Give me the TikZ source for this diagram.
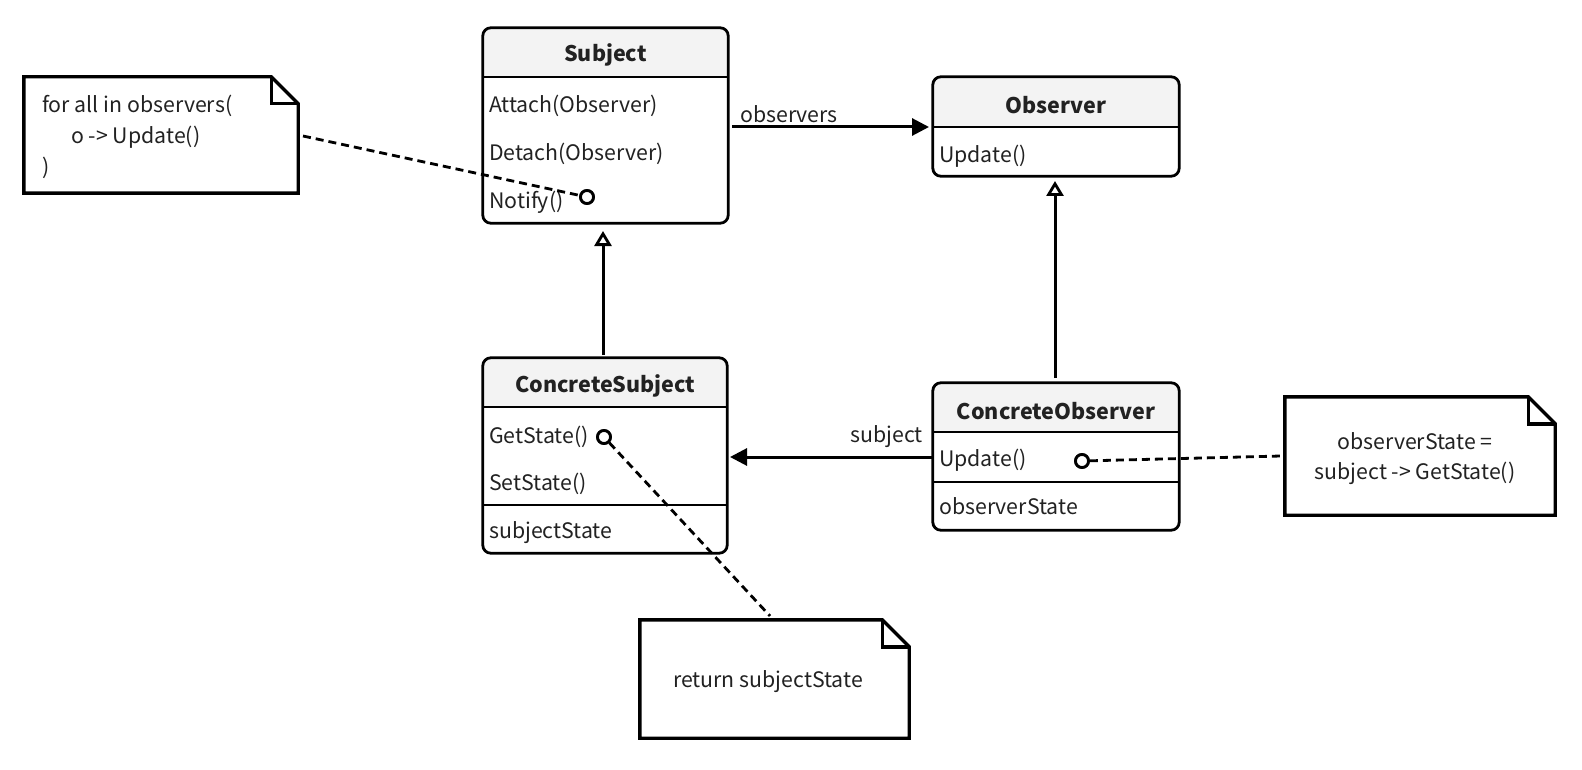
\documentclass[tikz,border=0pt]{standalone}
\usepackage{fontspec}
\setmainfont{Noto Sans CJK SC}
\usetikzlibrary{arrows.meta,calc}

\definecolor{ink}{HTML}{000000}
\definecolor{txt}{HTML}{222222}
\definecolor{hdr}{HTML}{F3F3F3}

\tikzset{
  every node/.style={font=\fontsize{21.3}{30}\selectfont, text=txt},
  frame/.style={draw=none, minimum width=#1, inner sep=0pt},
  boxline/.style={draw=ink, line width=2.8pt, rounded corners=8pt},
  divider/.style={draw=ink, line width=2.4pt},
  title/.style={font=\fontsize{21.5}{26}\selectfont\bfseries},
  row/.style={anchor=west, inner sep=0pt},
  assoc/.style={draw=ink, line width=3pt, -{Triangle[length=17pt,width=17pt]}},
  inherit/.style={draw=ink, line width=3pt, -{Triangle[open,length=15pt,width=17pt,line width=2.8pt]}},
  notelink/.style={draw=ink, line width=2.8pt, dash pattern=on 8pt off 5pt},
  port/.style={circle, draw=ink, fill=white, line width=2.8pt, minimum size=13pt, inner sep=0pt},
  notebox/.style={draw=none, inner sep=0pt},
  noteline/.style={draw=ink, line width=3.4pt, line join=miter},
  lbl/.style={inner sep=0pt}
}

% class box: node name, header height; header fill and rounded border
\newcommand{\umlclass}[2]{%
  \begin{scope}
    \clip[rounded corners=8pt] (#1.south west) rectangle (#1.north east);
    \fill[white] (#1.south west) rectangle (#1.north east);
    \fill[hdr] (#1.north west) rectangle ($(#1.north east)+(0,#2)$);
  \end{scope}
  \draw[boxline] (#1.south west) rectangle (#1.north east);
}

% note with folded corner: node name, fold size
\newcommand{\umlnote}[2]{%
  \draw[noteline, fill=white] (#1.north west) -- ($(#1.north east)+(-#2,0)$)
    -- ($(#1.north east)+(0,#2)$) -- (#1.south east) -- (#1.south west) -- cycle;
  \draw[noteline] ($(#1.north east)+(-#2,0)$) -- ($(#1.north east)+(-#2,#2)$)
    -- ($(#1.north east)+(0,#2)$);
}

\begin{document}
\begin{tikzpicture}[x=1pt, y=-1pt]
\useasboundingbox (0,0) rectangle (1582,770);

% ---------- class boxes ----------
\node[frame=245pt, minimum height=195pt] (subj) at (605.5,125.5) {};
\node[frame=246pt, minimum height=99pt] (obs) at (1056,126.5) {};
\node[frame=244pt, minimum height=195pt] (csubj) at (605,455.5) {};
\node[frame=246pt, minimum height=147pt] (cobs) at (1056,456.5) {};

\umlclass{subj}{49}
\umlclass{obs}{50}
\umlclass{csubj}{49}
\umlclass{cobs}{49}

% Subject
\draw[divider] (subj.west |- 0,77) -- (subj.east |- 0,77);
\node[title] (subjT) at (605.5,55) {Subject};
\node[row] (subjA) at (489,106) {Attach(Observer)};
\node[row] (subjD) at (489,154) {Detach(Observer)};
\node[row] (subjN) at (489,202) {Notify()};

% Observer
\draw[divider] (obs.west |- 0,127) -- (obs.east |- 0,127);
\node[title] (obsT) at (1056,105) {Observer};
\node[row] (obsU) at (939,156) {Update()};

% ConcreteSubject
\draw[divider] (csubj.west |- 0,407) -- (csubj.east |- 0,407);
\draw[divider] (csubj.west |- 0,505) -- (csubj.east |- 0,505);
\node[title] (csubjT) at (605,386) {ConcreteSubject};
\node[row] (csubjG) at (489,437) {GetState()};
\node[row] (csubjS) at (489,484) {SetState()};
\node[row] (csubjV) at (489,533) {subjectState};

% ConcreteObserver
\draw[divider] (cobs.west |- 0,432) -- (cobs.east |- 0,432);
\draw[divider] (cobs.west |- 0,482) -- (cobs.east |- 0,482);
\node[title] (cobsT) at (1056,411) {ConcreteObserver};
\node[row] (cobsU) at (939,460) {Update()};
\node[row] (cobsV) at (939,506) {observerState};

% ---------- notes ----------
\node[notebox, minimum width=274pt, minimum height=116pt] (note1) at (161,135) {};
\node[notebox, minimum width=270pt, minimum height=118pt] (note2) at (1420,456) {};
\node[notebox, minimum width=269pt, minimum height=118pt] (note3) at (774.5,679) {};
\umlnote{note1}{27}
\umlnote{note2}{27}
\umlnote{note3}{27}

\node[row] (n1a) at (42,106) {for all in observers(};
\node[row] (n1b) at (71,137) {o -> Update()};
\node[row] (n1c) at (42,168) {)};
\node[lbl, align=center] (n2t) at (1415,459) {observerState =\\subject -> GetState()};
\node[lbl] (n3t) at (768,682) {return subjectState};

% ---------- connectors ----------
\coordinate (obsIn) at (929,127);
\draw[assoc] (732,127) -- (obsIn);
\node[lbl, anchor=south west] (lobs) at (740,123) {observers};

\coordinate (csIn) at (730,457);
\draw[assoc] (cobs.west |- csIn) -- (csIn);
\node[lbl, anchor=south east] (lsub) at (923,448) {subject};

\draw[inherit] (603,355) -- (603,231);
\draw[inherit] (1055,378) -- (1055,181);

% note attachments
\node[port] (pN) at (587,197) {};
\node[port] (pG) at (604,437) {};
\node[port] (pU) at (1082,461) {};
\coordinate (n1end) at (303,136);
\coordinate (n3end) at (770,616);
\coordinate (n2end) at (1281,456);
\draw[notelink] (n1end) -- (pN);
\draw[notelink] (pG) -- (n3end);
\draw[notelink] (pU) -- (n2end);
\node[port] at (pN) {};
\node[port] at (pG) {};
\node[port] at (pU) {};
\end{tikzpicture}
\end{document}
